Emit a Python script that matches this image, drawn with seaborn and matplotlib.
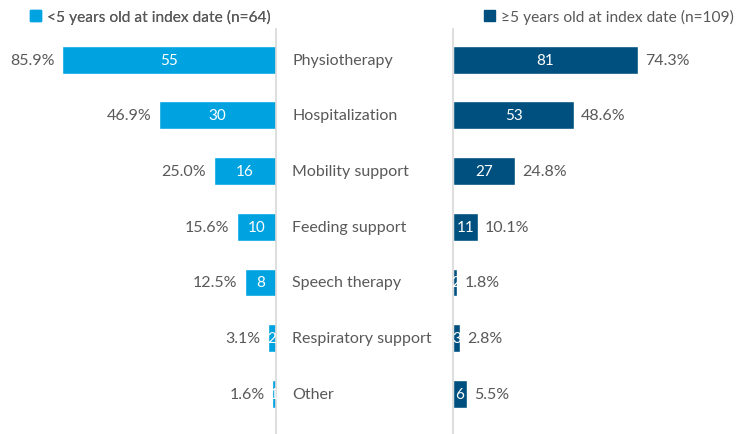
import matplotlib
matplotlib.use('Agg')
import matplotlib.pyplot as plt
import matplotlib.transforms as mtransforms
from matplotlib.patches import Patch
import seaborn as sns
import pandas as pd

# Dati
categories = ['Physiotherapy', 'Hospitalization', 'Mobility support', 'Feeding support',
              'Speech therapy', 'Respiratory support', 'Other']
young_n = [55, 30, 16, 10, 8, 2, 1]
young_pct = [85.9, 46.9, 25.0, 15.6, 12.5, 3.1, 1.6]
old_n = [81, 53, 27, 11, 2, 3, 6]
old_pct = [74.3, 48.6, 24.8, 10.1, 1.8, 2.8, 5.5]
young_label = '<5 years old at index date (n=64)'
old_label = '≥5 years old at index date (n=109)'

light_blue = '#00A3E0'
dark_blue = '#00507F'
grey_text = '#595959'

sns.set_theme(style='white')
plt.rcParams['font.family'] = ['Lato', 'DejaVu Sans']

df = pd.DataFrame({'cat': categories, 'yn': young_n, 'yp': young_pct,
                   'on': old_n, 'op': old_pct})

W, H = 744, 435
fig = plt.figure(figsize=(W / 100, H / 100), dpi=100)
# assi: scala ~2.49 px per punto percentuale
axL = fig.add_axes([27 / W, 0, 249 / W, 405 / H])
axR = fig.add_axes([453 / W, 0, 249 / W, 405 / H])

sns.barplot(data=df, x='yp', y='cat', ax=axL, color=light_blue, width=0.5,
            saturation=1, orient='h')
sns.barplot(data=df, x='op', y='cat', ax=axR, color=dark_blue, width=0.5,
            saturation=1, orient='h')

axL.set_xlim(100, 0)
axR.set_xlim(0, 100)
for ax in (axL, axR):
    ax.set_ylim(6.72, -0.55)
    ax.set_xlabel('')
    ax.set_ylabel('')
    ax.set_xticks([])
    ax.set_yticks([])
    for s in ['top', 'bottom', 'left', 'right']:
        ax.spines[s].set_visible(False)
axL.spines['right'].set_visible(True)
axL.spines['right'].set_color('#D9D9D9')
axR.spines['left'].set_visible(True)
axR.spines['left'].set_color('#D9D9D9')

fs = 11.5
for i in range(len(categories)):
    axL.text(young_pct[i] / 2, i, str(young_n[i]), color='white', ha='center',
             va='center', fontsize=fs - 0.5)
    axL.text(young_pct[i] + 3.0, i, f'{young_pct[i]:.1f}%', color=grey_text,
             ha='right', va='center', fontsize=fs)
    axR.text(old_pct[i] / 2, i, str(old_n[i]), color='white', ha='center',
             va='center', fontsize=fs - 0.5)
    axR.text(old_pct[i] + 2.8, i, f'{old_pct[i]:.1f}%', color=grey_text,
             ha='left', va='center', fontsize=fs)

# etichette delle categorie nel mezzo
trans = mtransforms.blended_transform_factory(fig.transFigure, axL.transData)
for i, c in enumerate(categories):
    fig.text(292 / W, i, c, transform=trans, ha='left', va='center',
             color=grey_text, fontsize=fs)

# legende
lfs = 11.2
leg1 = fig.legend(handles=[Patch(color=light_blue, label=young_label)],
                  loc='center left', bbox_to_anchor=(16 / W, 1 - 17 / H),
                  frameon=False, handlelength=0.7, handleheight=0.7,
                  handletextpad=0.4, fontsize=lfs, labelcolor=grey_text)
fig.add_artist(leg1)
fig.legend(handles=[Patch(color=dark_blue, label=old_label)],
           loc='center left', bbox_to_anchor=(470 / W, 1 - 17 / H),
           frameon=False, handlelength=0.7, handleheight=0.7,
           handletextpad=0.4, fontsize=lfs, labelcolor=grey_text)

fig.savefig('out.png', dpi=100)
